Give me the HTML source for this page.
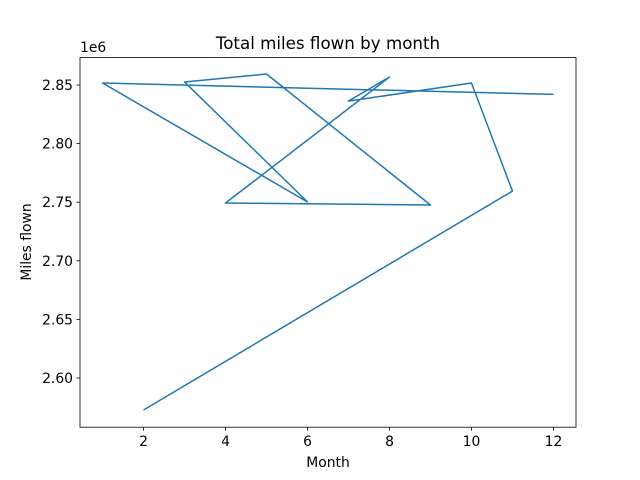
<!DOCTYPE html>
<html><head><meta charset="utf-8"><style>body{margin:0;background:#fff}svg{display:block;font-family:"DejaVu Sans","Liberation Sans",sans-serif}</style></head>
<body>
<svg id="chart" width="640" height="480">
<rect x="0" y="0" width="640" height="480" fill="#fff"/>
<text x="328" y="49" text-anchor="middle" font-size="16.7">Total miles flown by month</text>
<text x="328" y="467" text-anchor="middle" font-size="13.9">Month</text>
<text x="31" y="242" text-anchor="middle" font-size="13.9" transform="rotate(-90 31 242)">Miles flown</text>
<text x="80" y="52" font-size="13.9">1e6</text>
<g id="xt"></g><g id="yt"></g>
<path id="line" fill="none" stroke="#1f77b4" stroke-width="1.5" stroke-linejoin="round"/>
<rect x="80" y="57.6" width="496" height="369.6" fill="none" stroke="#000" stroke-width="0.8"/>
</svg>
<script>
const months = [12,1,6,3,5,9,4,8,7,10,11,2];
const miles = [2.842,2.8517,2.7502,2.8526,2.8594,2.7476,2.7493,2.8568,2.8363,2.8517,2.7595,2.5727];
const xTicks = [2,4,6,8,10,12];
const yTicks = [2.60,2.65,2.70,2.75,2.80,2.85];
const L=80,R=576,T=57.6,B=427.2,xmin=0.45,xmax=12.55,ymin=2.558,ymax=2.8734;
const X=v=>L+(v-xmin)/(xmax-xmin)*(R-L);
const Y=v=>B-(v-ymin)/(ymax-ymin)*(B-T);
const NS="http://www.w3.org/2000/svg";
let d="";months.forEach((m,i)=>{d+=(i?"L":"M")+X(m).toFixed(2)+","+Y(miles[i]).toFixed(2);});
document.getElementById('line').setAttribute('d',d);
const xt=document.getElementById('xt'),yt=document.getElementById('yt');
xTicks.forEach(t=>{const l=document.createElementNS(NS,'line');l.setAttribute('x1',X(t));l.setAttribute('x2',X(t));l.setAttribute('y1',B);l.setAttribute('y2',B+3.5);l.setAttribute('stroke','#000');l.setAttribute('stroke-width','0.8');


xt.appendChild(l);const s=document.createElementNS(NS,'text');s.setAttribute('x',X(t));s.setAttribute('y',B+19);s.setAttribute('text-anchor','middle');s.setAttribute('font-size','13.9');s.textContent=t;


xt.appendChild(s);});
yTicks.forEach(t=>{const l=document.createElementNS(NS,'line');l.setAttribute('x1',L-3.5);l.setAttribute('x2',L);l.setAttribute('y1',Y(t));l.setAttribute('y2',Y(t));l.setAttribute('stroke','#000');l.setAttribute('stroke-width','0.8');


yt.appendChild(l);const s=document.createElementNS(NS,'text');s.setAttribute('x',L-7);s.setAttribute('y',Y(t)+5);s.setAttribute('text-anchor','end');s.setAttribute('font-size','13.9');s.textContent=t.toFixed(2);


yt.appendChild(s);});
</script>
</body></html>
